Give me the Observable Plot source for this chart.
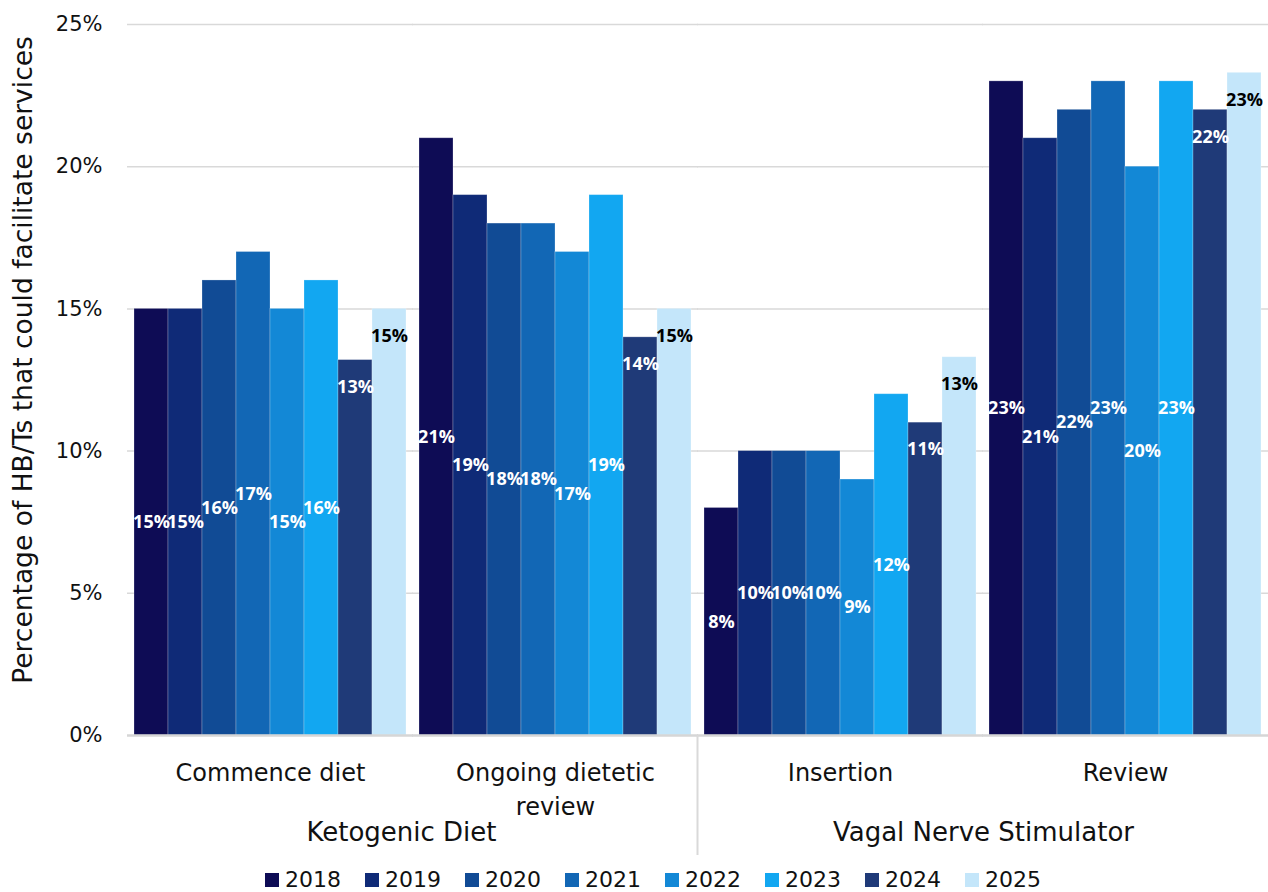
<!DOCTYPE html>
<html><head><meta charset="utf-8">
<script src="https://cdn.jsdelivr.net/npm/d3@7"></script>
<script src="https://cdn.jsdelivr.net/npm/@observablehq/plot@0.6"></script>
<style>
body{margin:0;background:#fff;font-family:"DejaVu Sans",sans-serif;overflow:hidden;}
#chart{width:1268px;}
#chart svg{display:block;}
.lg-swatches{justify-content:center;align-items:center;margin:6px 0 0 0 !important;padding-left:38px;min-height:0 !important;height:24px;line-height:24px;}
.lg-swatch{margin-right:24px !important;}
.lg-swatch:last-child{margin-right:0 !important;}
.lg-swatch svg{margin-right:6px !important;}
</style></head><body><div id="chart"></div><script>
const categories = ["Commence diet","Ongoing dietetic review","Insertion","Review"];
const categoryLabels = ["Commence diet","Ongoing dietetic\nreview","Insertion","Review"];
const superGroups = ["Ketogenic Diet","Vagal Nerve Stimulator"];
const years = ["2018","2019","2020","2021","2022","2023","2024","2025"];
const commenceDiet = [15,15,16,17,15,16,13.2,15];
const ongoingReview = [21,19,18,18,17,19,14,15];
const insertion = [8,10,10,10,9,12,11,13.3];
const review = [23,21,22,23,20,23,22,23.3];
const colors = ["#0e0c55","#0f2a77","#114b95","#1267b5","#1388d6","#12a7f1","#1f3a78","#c4e6fa"];
const yTicks = [0,5,10,15,20,25];
const yLabel = "Percentage of HB/Ts that could facilitate services";

const series = [commenceDiet, ongoingReview, insertion, review];
const data = [];
categories.forEach((c, i) => years.forEach((y, j) => data.push({cat: c, year: y, value: series[i][j]})));
const endYears = ["2024","2025"];
const font = "DejaVu Sans";
const labelFont = "Open Sans";

const plot = Plot.plot({
  width: 1268,
  height: 862,
  marginTop: 24,
  marginLeft: 127,
  marginRight: 0,
  marginBottom: 127,
  style: {fontFamily: font, background: "#fff", overflow: "visible"},
  fx: {domain: categories, paddingInner: 0.04, paddingOuter: 0.02, axis: null},
  x: {domain: years, padding: 0, axis: null},
  y: {domain: [0, 25], axis: null},
  color: {domain: years, range: colors},
  marks: [
    Plot.ruleY(yTicks.slice(1), {stroke: "#d9d9d9", strokeWidth: 1.5, insetLeft: -6, insetRight: -6}),
    Plot.barY(data, {fx: "cat", x: "year", y: "value", fill: "year", stroke: "#ffffff", strokeOpacity: 0.3, strokeWidth: 0.8}),
    Plot.ruleY([0], {stroke: "#d6d6d6", strokeWidth: 2.5, insetLeft: -6, insetRight: -6}),
    Plot.axisY(yTicks, {fx: () => "Commence diet", tickSize: 0, tickPadding: 31, tickFormat: d => d + "%", fontSize: 21, fill: "#111", label: null}),
    Plot.text(data.filter(d => !endYears.includes(d.year)), {fx: "cat", x: "year", y: d => d.value / 2, text: d => Math.round(d.value) + "%", fill: "#fff", fontWeight: 700, fontSize: 18, fontFamily: labelFont}),
    Plot.text(data.filter(d => endYears.includes(d.year)), {fx: "cat", x: "year", y: "value", dy: 27, text: d => Math.round(d.value) + "%", fill: d => d.year === "2025" ? "#000" : "#fff", fontWeight: 700, fontSize: 18, fontFamily: labelFont}),
    Plot.text(categories, {fx: d => d, text: (d, i) => categoryLabels[i], frameAnchor: "bottom", lineAnchor: "top", dy: 21, lineHeight: 1.42, fontSize: 24, fill: "#111"}),
    Plot.text([superGroups[0]], {fx: () => categories[0], frameAnchor: "bottom-right", textAnchor: "middle", dx: -6, dy: 105, fontSize: 26, fill: "#111"}),
    Plot.text([superGroups[1]], {fx: () => categories[2], frameAnchor: "bottom-right", textAnchor: "middle", dx: 6, dy: 105, fontSize: 26, fill: "#111"}),
    Plot.ruleX([categories[2]], {fx: d => d, x: () => years[0], y1: 0, y2: -4.22, dx: -24, stroke: "#d9d9d9", strokeWidth: 2}),
    Plot.text([yLabel], {fx: () => categories[0], frameAnchor: "left", textAnchor: "middle", rotate: -90, dx: -110, dy: -20, fontSize: 26.5, fill: "#111"})
  ]
});
document.getElementById("chart").appendChild(plot);
const legend = Plot.legend({color: {type: "ordinal", domain: years, range: colors}, legend: "swatches", swatchSize: 14, className: "lg", style: {fontSize: "22px", fontFamily: font, color: "#111"}});
document.getElementById("chart").appendChild(legend);
</script></body></html>
